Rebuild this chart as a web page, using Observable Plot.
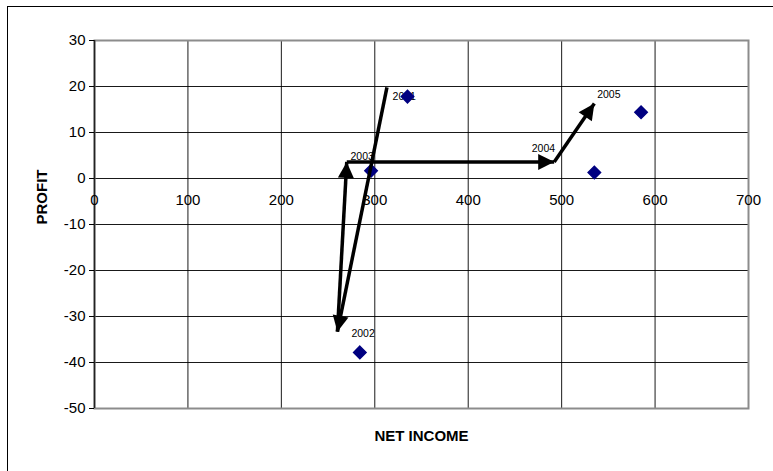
<!DOCTYPE html>
<html>
<head>
<meta charset="utf-8">
<script src="https://cdn.jsdelivr.net/npm/d3@7"></script>
<script src="https://cdn.jsdelivr.net/npm/@observablehq/plot@0.6"></script>
<style>
  html, body { margin: 0; padding: 0; background: #fff; overflow: hidden; }
  #wrap { position: relative; width: 773px; height: 471px; }
  #wrap svg { position: absolute; left: 0; top: 0; }
  #outer { position: absolute; left: 7px; top: 6px; width: 800px; height: 500px;
           border-left: 1px solid #000; border-top: 1px solid #000; pointer-events: none; }
</style>
</head>
<body>
<div id="wrap"></div>
<script>
// Yearly observations: net income vs profit
const years = ["2001", "2002", "2003", "2004", "2005"];
const netIncome = [335, 284, 296, 535, 585];
const profit = [17.8, -37.8, 1.7, 1.3, 14.4];

// Trajectory drawn as arrows from year to year
const pathIncome = [313, 260, 270, 492, 535];
const pathProfit = [19.8, -33.3, 3.6, 3.6, 16.3];

// Year annotations along the trajectory
const labelIncome = [319, 275, 274, 468, 538];
const labelProfit = [17.8, -33.7, 4.8, 6.5, 18.3];

const xTicks = [0, 100, 200, 300, 400, 500, 600, 700];
const yTicks = [-50, -40, -30, -20, -10, 0, 10, 20, 30];

const points = years.map((y, i) => ({year: y, x: netIncome[i], y: profit[i]}));
const segments = pathIncome.slice(1).map((_, i) => ({
  x1: pathIncome[i], y1: pathProfit[i], x2: pathIncome[i + 1], y2: pathProfit[i + 1]
}));
const labels = years.map((y, i) => ({text: y, x: labelIncome[i], y: labelProfit[i]}));

const chart = Plot.plot({
  width: 773,
  height: 471,
  marginLeft: 94,
  marginRight: 25,
  marginTop: 40,
  marginBottom: 63,
  style: {fontFamily: "Arial, 'Liberation Sans', sans-serif", fontSize: "15px", background: "transparent", color: "#000"},
  x: {domain: [0, 700], ticks: xTicks},
  y: {domain: [-50, 30], ticks: yTicks},
  marks: [
    Plot.gridX(xTicks, {stroke: "#000", strokeOpacity: 0.9, strokeWidth: 1}),
    Plot.gridY(yTicks, {stroke: "#000", strokeOpacity: 0.9, strokeWidth: 1}),
    Plot.frame({stroke: "#8c8c8c", strokeWidth: 2}),
    Plot.ruleX([0], {stroke: "#222", strokeWidth: 1.5}),
    Plot.axisY(yTicks, {tickSize: 5, tickPadding: 4, label: null, fontSize: 15, tickFormat: d => String(d)}),
    Plot.axisX({ticks: [], label: null, tickSize: 0}),
    Plot.text(xTicks, {x: d => d, y: 0, dy: 22, text: d => String(d), lineAnchor: "middle", fontSize: 15}),
    Plot.text(["PROFIT"], {frameAnchor: "left", dx: -52, rotate: -90, fontWeight: "bold", fontSize: 15, lineAnchor: "middle"}),
    Plot.text(["NET INCOME"], {frameAnchor: "bottom", dy: 28, fontWeight: "bold", fontSize: 15, lineAnchor: "middle"}),
    Plot.text(labels, {x: "x", y: "y", text: "text", textAnchor: "start", lineAnchor: "middle", fontSize: 10.5}),
    Plot.dot(points, {x: "x", y: "y", symbol: "diamond2", r: 5.6, fill: "#000080", stroke: "#000080"}),
    Plot.link(segments, {x1: "x1", y1: "y1", x2: "x2", y2: "y2", stroke: "#000", strokeWidth: 3.5, markerEnd: "arrow"})
  ]
});

// Solid triangular heads on the trajectory arrows
d3.select(chart).selectAll("marker")
  .attr("markerUnits", "userSpaceOnUse")
  .attr("markerWidth", 17)
  .attr("markerHeight", 17)
  .attr("viewBox", "-17 -8.5 17 17")
  .attr("refX", 0)
  .attr("refY", 0)
  .each(function () {
    d3.select(this).selectAll("*").remove();
    d3.select(this).append("path")
      .attr("d", "M-16,-8L0,0L-16,8Z")
      .attr("fill", "#000")
      .attr("stroke", "none");
  });

const wrap = document.getElementById("wrap");
wrap.appendChild(chart);
const outer = document.createElement("div");
outer.id = "outer";
wrap.appendChild(outer);
</script>
</body>
</html>
